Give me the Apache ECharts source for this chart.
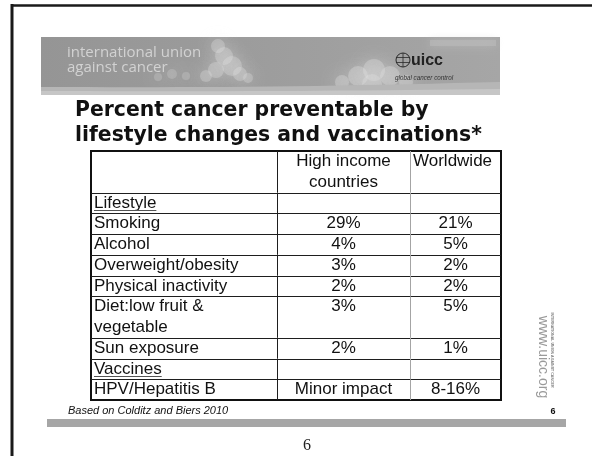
<!DOCTYPE html>
<html>
<head>
<meta charset="utf-8">
<script src="https://cdn.jsdelivr.net/npm/echarts@6/dist/echarts.min.js"></script>
<style>
html,body{margin:0;padding:0;background:#fff}
#c{width:592px;height:456px}
</style>
</head>
<body>
<div id="c"></div>
<script>
// Table content
const columnHeaders = ['', 'High income\ncountries', 'Worldwide'];
const rowLabels = ['Lifestyle', 'Smoking', 'Alcohol', 'Overweight/obesity', 'Physical inactivity',
  'Diet:low fruit &\nvegetable', 'Sun exposure', 'Vaccines', 'HPV/Hepatitis B'];
const highIncome = ['', '29%', '4%', '3%', '2%', '3%', '2%', '', 'Minor impact'];
const worldwide = ['', '21%', '5%', '2%', '2%', '5%', '1%', '', '8-16%'];
const sectionRows = ['Lifestyle', 'Vaccines'];

// Layout of the table (pixel widths of the columns, alignments)
const colWidths = [186, 133, 91];
const headerAlign = ['left', 'center', 'left'];
const bodyAlign = ['left', 'center', 'center'];
const CELL_FONT = '17px "Liberation Sans", Arial, sans-serif';

const tableRows = [columnHeaders].concat(rowLabels.map((l, i) => [l, highIncome[i], worldwide[i]]));
const colEdges = [0];
colWidths.forEach(w => colEdges.push(colEdges[colEdges.length - 1] + w));
const rowEdges = [0];
tableRows.forEach(r => {
  const n = Math.max.apply(null, r.map(t => t.split('\n').length));
  rowEdges.push(rowEdges[rowEdges.length - 1] + n);
});
const totalW = colEdges[colEdges.length - 1];
const totalLines = rowEdges[rowEdges.length - 1];

const cells = [];
tableRows.forEach((r, ri) => {
  r.forEach((t, ci) => {
    cells.push({
      value: [colEdges[ci], colEdges[ci + 1], rowEdges[ri], rowEdges[ri + 1]],
      text: t, col: ci,
      align: ri === 0 ? headerAlign[ci] : bodyAlign[ci],
      section: ci === 0 && sectionRows.indexOf(t) >= 0
    });
  });
});

const measureCtx = document.createElement('canvas').getContext('2d');
function textWidth(t, font) { measureCtx.font = font; return measureCtx.measureText(t).width; }

function renderCell(params, api) {
  const cell = cells[params.dataIndex];
  const v = cell.value;
  const a = api.coord([v[0], v[2]]);
  const b = api.coord([v[1], v[3]]);
  const unit = api.size([0, 1])[1];
  const children = [];
  if (v[2] > 0) {
    const y = Math.round(a[1]) + 0.5;
    children.push({ type: 'line', shape: { x1: a[0], y1: y, x2: b[0], y2: y },
      style: { stroke: '#1e1e1e', lineWidth: 1 } });
  }
  if (v[0] > 0) {
    const x = Math.round(a[0]) + 0.5;
    children.push({ type: 'line', shape: { x1: x, y1: a[1], x2: x, y2: b[1] },
      style: { stroke: cell.col === 2 ? '#a4a4a4' : '#1e1e1e', lineWidth: 1 } });
  }
  if (cell.text) {
    const tx = cell.align === 'left' ? a[0] + 3 : (a[0] + b[0]) / 2;
    children.push({ type: 'text', style: { text: cell.text, x: tx, y: a[1], font: CELL_FONT,
      fill: '#111', align: cell.align, verticalAlign: 'top', lineHeight: unit } });
    if (cell.section) {
      // underline just below the baseline of the section heading
      const w = textWidth(cell.text, CELL_FONT);
      const uy = Math.round(a[1] + unit - 3.5) + 0.5;
      children.push({ type: 'line', shape: { x1: tx, y1: uy, x2: tx + w, y2: uy },
        style: { stroke: '#555', lineWidth: 1 } });
    }
  }
  return { type: 'group', children: children };
}

// Soft curved band along the bottom of the banner
function band(yLeft, yRight, sag, bottom) {
  const pts = [];
  for (let i = 0; i <= 20; i++) {
    const t = i / 20;
    pts.push([41 + 459 * t, yLeft + (yRight - yLeft) * t + sag * Math.sin(Math.PI * t)]);
  }
  pts.push([500, bottom], [41, bottom]);
  return pts;
}

// Banner clouds: soft, heavily blurred puffs
function cloud(cx, cy, blobs, alpha) {
  return blobs.map(bl => ({
    type: 'circle', shape: { cx: cx + bl[0], cy: cy + bl[1], r: bl[2] },
    style: { fill: 'rgba(228,228,228,' + alpha + ')', shadowBlur: 16, shadowColor: 'rgba(235,235,235,0.9)' },
    silent: true
  }));
}

const bannerParts = [
  { type: 'rect', shape: { x: 41, y: 37, width: 459, height: 58 },
    style: { fill: new echarts.graphic.LinearGradient(0, 0, 1, 0, [
      { offset: 0, color: '#959595' }, { offset: 0.5, color: '#9d9d9d' }, { offset: 1, color: '#a6a6a6' }]) } },
  { type: 'rect', shape: { x: 430, y: 40, width: 66, height: 6 },
    style: { fill: 'rgba(190,190,190,0.5)', shadowBlur: 8, shadowColor: '#c4c4c4' } }
]
  .concat(cloud(222, 60, [[-4, -14, 7], [2, -4, 9], [10, 6, 10], [-6, 10, 8], [18, 14, 7], [-16, 16, 6], [26, 18, 5]], 0.3))
  .concat(cloud(172, 74, [[0, 0, 5], [-14, 3, 4], [14, 2, 4]], 0.22))
  .concat(cloud(372, 72, [[-30, 10, 7], [-14, 4, 10], [2, -2, 11], [18, 4, 10], [34, 10, 7], [0, 12, 10]], 0.32))
  .concat([
    { type: 'polygon', shape: { points: band(87, 82, 2, 95) }, style: { fill: '#b6b6b6' } },
    { type: 'polygon', shape: { points: band(91, 89, 1, 95) }, style: { fill: '#c6c6c6' } },
    { type: 'text', x: 67, y: 53, style: { text: 'international union', font: '15px "Open Sans", sans-serif',
      fill: '#d2d2d2', verticalAlign: 'middle' } },
    { type: 'text', x: 67, y: 68, style: { text: 'against cancer', font: '15px "Open Sans", sans-serif',
      fill: '#d2d2d2', verticalAlign: 'middle' } },
    { type: 'circle', shape: { cx: 403, cy: 60, r: 7 }, style: { fill: 'none', stroke: '#2a2a2a', lineWidth: 1 } },
    { type: 'line', shape: { x1: 403, y1: 53, x2: 403, y2: 67 }, style: { stroke: '#2a2a2a', lineWidth: 0.8 } },
    { type: 'line', shape: { x1: 396, y1: 57.5, x2: 410, y2: 57.5 }, style: { stroke: '#2a2a2a', lineWidth: 0.8 } },
    { type: 'line', shape: { x1: 396, y1: 62.5, x2: 410, y2: 62.5 }, style: { stroke: '#2a2a2a', lineWidth: 0.8 } },
    { type: 'text', x: 411, y: 61, style: { text: 'uicc', font: 'bold 16px "Liberation Sans", Arial',
      fill: '#222', verticalAlign: 'middle' } },
    { type: 'text', x: 395, y: 78, style: { text: 'global cancer control', font: 'italic 6.3px "Liberation Sans", Arial',
      fill: '#333', verticalAlign: 'middle' } }
  ]);

const chart = echarts.init(document.getElementById('c'), null, { renderer: 'canvas' });
chart.setOption({
  backgroundColor: '#fff',
  animation: false,
  grid: { left: 91, top: 151, width: totalW, height: 249, show: true,
    borderColor: '#111', borderWidth: 2, backgroundColor: '#fff' },
  xAxis: { type: 'value', min: 0, max: totalW, show: false },
  yAxis: { type: 'value', min: 0, max: totalLines, inverse: true, show: false },
  series: [{
    type: 'custom', renderItem: renderCell, clip: false, silent: true,
    encode: { x: [0, 1], y: [2, 3] },
    data: cells.map(c => c.value)
  }],
  graphic: [
    // slide frame
    { type: 'line', shape: { x1: 12, y1: 4, x2: 12, y2: 456 }, style: { stroke: '#1a1a1a', lineWidth: 3 } },
    { type: 'line', shape: { x1: 11, y1: 5.5, x2: 592, y2: 5.5 }, style: { stroke: '#1a1a1a', lineWidth: 2.5 } },
    { type: 'group', children: bannerParts },
    { type: 'text', x: 75, y: 111, style: { text: 'Percent cancer preventable by',
      font: 'bold 20.4px "DejaVu Sans", Verdana, sans-serif', fill: '#111', verticalAlign: 'middle' } },
    { type: 'text', x: 75, y: 136, style: { text: 'lifestyle changes and vaccinations*',
      font: 'bold 20.4px "DejaVu Sans", Verdana, sans-serif', fill: '#111', verticalAlign: 'middle' } },
    { type: 'text', x: 68, y: 411, style: { text: 'Based on Colditz and Biers 2010',
      font: 'italic 11px "Liberation Sans", Arial', fill: '#111', verticalAlign: 'middle' } },
    { type: 'rect', shape: { x: 47, y: 419, width: 519, height: 8 }, style: { fill: '#a6a6a6' } },
    { type: 'text', x: 553, y: 412, style: { text: '6', font: 'bold 9px "Liberation Sans", Arial',
      fill: '#111', align: 'center', verticalAlign: 'middle' } },
    { type: 'text', x: 543, y: 357, rotation: -Math.PI / 2, style: { text: 'www.uicc.org',
      font: '14px "Liberation Sans", Arial', fill: '#9a9a9a', align: 'center', verticalAlign: 'middle' } },
    { type: 'text', x: 552, y: 350, rotation: -Math.PI / 2, style: { text: 'INTERNATIONAL UNION AGAINST CANCER',
      font: 'bold 3.6px "Liberation Sans", Arial', fill: '#777', align: 'center', verticalAlign: 'middle' } },
    { type: 'text', x: 307, y: 446, style: { text: '6', font: '16px "Liberation Serif", "Times New Roman", serif',
      fill: '#222', align: 'center', verticalAlign: 'middle' } }
  ]
});
</script>
</body>
</html>
